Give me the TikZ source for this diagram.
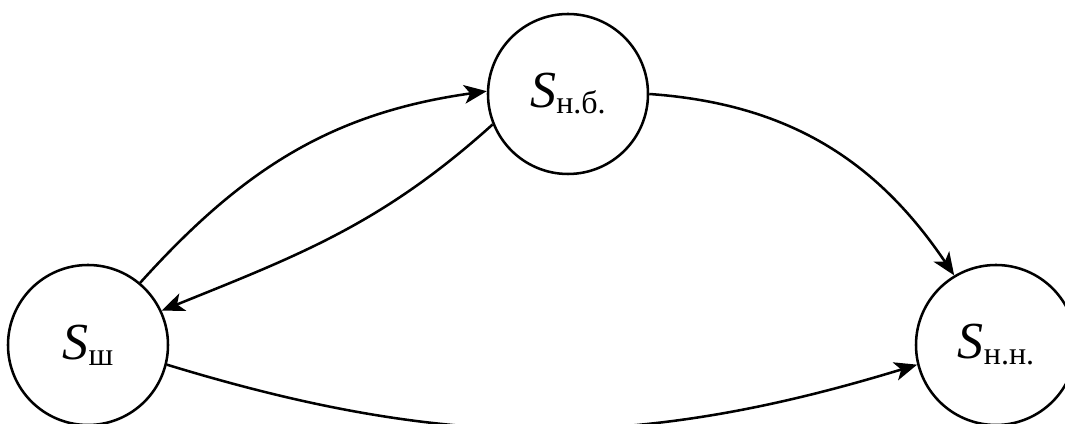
\documentclass[tikz,border=0pt]{standalone}
\usepackage{fontspec}
\setmainfont{Liberation Serif}
\newfontfamily\stfont{Liberation Serif}[ItalicFont={Liberation Serif Italic}]
\usetikzlibrary{arrows.meta}
\newcommand{\stlabel}[1]{{\stfont\fontsize{39}{39}\selectfont\itshape S}\raisebox{-4.5pt}{\stfont\fontsize{24}{24}\selectfont #1}}

\begin{document}
\begin{tikzpicture}[x=0.75pt,y=0.75pt,line width=1.9pt,>={Stealth[length=17pt,width=14pt,inset=4.5pt]},
  state/.style={circle,draw,minimum size=120pt,inner sep=0pt}]
\useasboundingbox (0,0) rectangle (1065,424);
\clip (0,0) rectangle (1065,424);
\node[state] (sw) at (88,79) {\stlabel{ш}};
\node[state] (nb) at (568,330) {\stlabel{н.б.}};
\node[state] (nn) at (996,79) {\stlabel{н.н.}};
\draw[->] (sw.50) to[out=48,in=188] (nb.178);
\draw[->] (nb.202) to[out=222,in=22] (sw.25);
\draw[->] (nb.0) to[out=-4,in=124] (nn.121);
\draw[->] (sw.-14) to[out=-17,in=197] (nn.194);
\end{tikzpicture}
\end{document}
